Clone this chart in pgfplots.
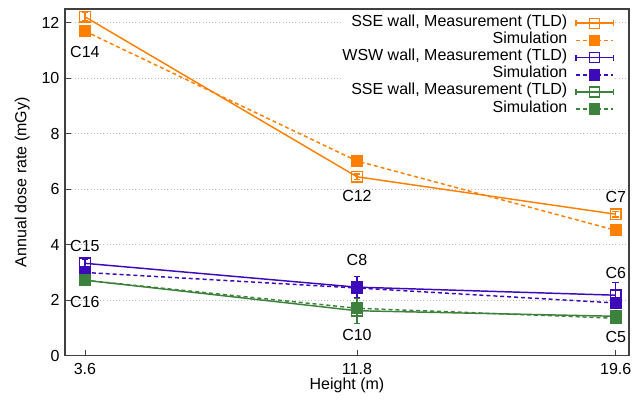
\documentclass[border=0pt]{standalone}
\usepackage{pgfplots}
\pgfplotsset{compat=1.18}
\usepackage{fontspec}
\setmainfont{Liberation Sans}
\definecolor{corange}{RGB}{255,128,0}
\definecolor{cpurple}{RGB}{60,10,185}
\definecolor{cgreen}{RGB}{60,130,60}
\pgfplotsset{
  meas/.style={
    legend image code/.code={
      \draw[##1,mark=none,solid] (0cm,0cm) -- (0.98cm,0cm);
      \draw[##1,mark=none,solid] (0cm,-0.08cm) -- (0cm,0.08cm);
      \draw[##1,mark=none,solid] (0.98cm,-0.08cm) -- (0.98cm,0.08cm);
      \draw[mark repeat=2,mark phase=2,##1,draw=none,mark size=3.75pt] plot coordinates {(0cm,0cm) (0.49cm,0cm) (0.98cm,0cm)};
    }
  },
  sim/.style={
    legend image code/.code={
      \draw[mark repeat=2,mark phase=2,##1,mark size=3.75pt] plot coordinates {(0cm,0cm) (0.49cm,0cm) (0.98cm,0cm)};
    }
  },
  dsh/.style={dash pattern=on 3pt off 2.2pt},
}
\begin{document}
\fontsize{12}{14}\selectfont
\begin{tikzpicture}
\begin{axis}[
  scale only axis,
  width=423pt, height=260pt,
  xmin=3, xmax=20,
  ymin=0, ymax=12.5,
  xtick={3.6,11.8,19.6},
  xticklabels={3.6,11.8,19.6},
  ytick={0,2,4,6,8,10,12},
  /pgf/number format/assume math mode=true,
  tick align=inside,
  xtick pos=lower, ytick pos=left,
  xticklabel style={yshift=-1.5pt},
  ymajorgrids,
  major grid style={gray!55, dotted, line width=0.6pt},
  axis line style={line width=0.8pt, black!75},
  major tick style={black!75, line width=0.6pt},
  xlabel={Height (m)},
  ylabel={Annual dose rate (mGy)},
  xlabel style={at={([yshift=-22.5pt]axis description cs:0.5,0)}, anchor=center},
  ylabel style={at={([xshift=-32pt]axis description cs:0,0.5)}, anchor=center},
  legend style={draw=none, fill=white, inner sep=0pt, outer sep=0pt,
    legend cell align=right, row sep=0pt, column sep=6pt,
    nodes={inner sep=0pt, text height=8.6pt, text depth=4.3pt},
    at={(rel axis cs:1,1)}, anchor=north east, xshift=-11.25pt, yshift=-4.2pt},
  legend plot pos=right,
  every axis plot/.append style={line width=1.1pt},
  clip=false,
]
\addplot+[meas, color=corange, solid, mark=square, mark size=4pt, mark options={solid, line width=1pt},
  error bars/.cd, y dir=both, y explicit, error bar style={color=corange, solid, line width=1pt}, error mark options={rotate=90, mark size=2.5pt, color=corange, line width=1pt}]
  coordinates {(3.6,12.22) +- (0,0.15) (11.8,6.45) +- (0,0.1) (19.6,5.1) +- (0,0.1)};
\addlegendentry{SSE wall, Measurement (TLD)}
\addplot+[sim, color=corange, dsh, mark=square*, mark size=4pt, mark options={solid}]
  coordinates {(3.6,11.7) (11.8,7.02) (19.6,4.52)};
\addlegendentry{Simulation}
\addplot+[meas, color=cpurple, solid, mark=square, mark size=4pt, mark options={solid, line width=1pt},
  error bars/.cd, y dir=both, y explicit, error bar style={color=cpurple, solid, line width=1pt}, error mark options={rotate=90, mark size=2.5pt, color=cpurple, line width=1pt}]
  coordinates {(3.6,3.33) +- (0,0.15) (11.8,2.47) +- (0,0.38) (19.6,2.18) +- (0,0.47)};
\addlegendentry{WSW wall, Measurement (TLD)}
\addplot+[sim, color=cpurple, dsh, mark=square*, mark size=4pt, mark options={solid}]
  coordinates {(3.6,3.0) (11.8,2.44) (19.6,1.9)};
\addlegendentry{Simulation}
\addplot+[meas, color=cgreen, solid, mark=square, mark size=4pt, mark options={solid, line width=1pt},
  error bars/.cd, y dir=both, y explicit, error bar style={color=cgreen, solid, line width=1pt}, error mark options={rotate=90, mark size=2.5pt, color=cgreen, line width=1pt}]
  coordinates {(3.6,2.72) +- (0,0.1) (11.8,1.62) +- (0,0.45) (19.6,1.42) +- (0,0.1)};
\addlegendentry{SSE wall, Measurement (TLD)}
\addplot+[sim, color=cgreen, dsh, mark=square*, mark size=4pt, mark options={solid}]
  coordinates {(3.6,2.72) (11.8,1.71) (19.6,1.35)};
\addlegendentry{Simulation}
\node at (axis cs:3.6,10.96) {C14};
\node at (axis cs:11.8,5.76) {C12};
\node at (axis cs:19.6,5.72) {C7};
\node at (axis cs:3.6,3.95) {C15};
\node at (axis cs:3.6,1.93) {C16};
\node at (axis cs:11.8,3.45) {C8};
\node at (axis cs:11.8,0.74) {C10};
\node at (axis cs:19.6,2.98) {C6};
\node at (axis cs:19.6,0.67) {C5};
\path (rel axis cs:0,0) ++(-48.75pt,-32.6pt) coordinate (bbl);
\path (rel axis cs:1,1) ++(11.25pt,6.75pt) coordinate (btr);
\end{axis}
\pgfresetboundingbox
\useasboundingbox (bbl) rectangle (btr);
\end{tikzpicture}
\end{document}
